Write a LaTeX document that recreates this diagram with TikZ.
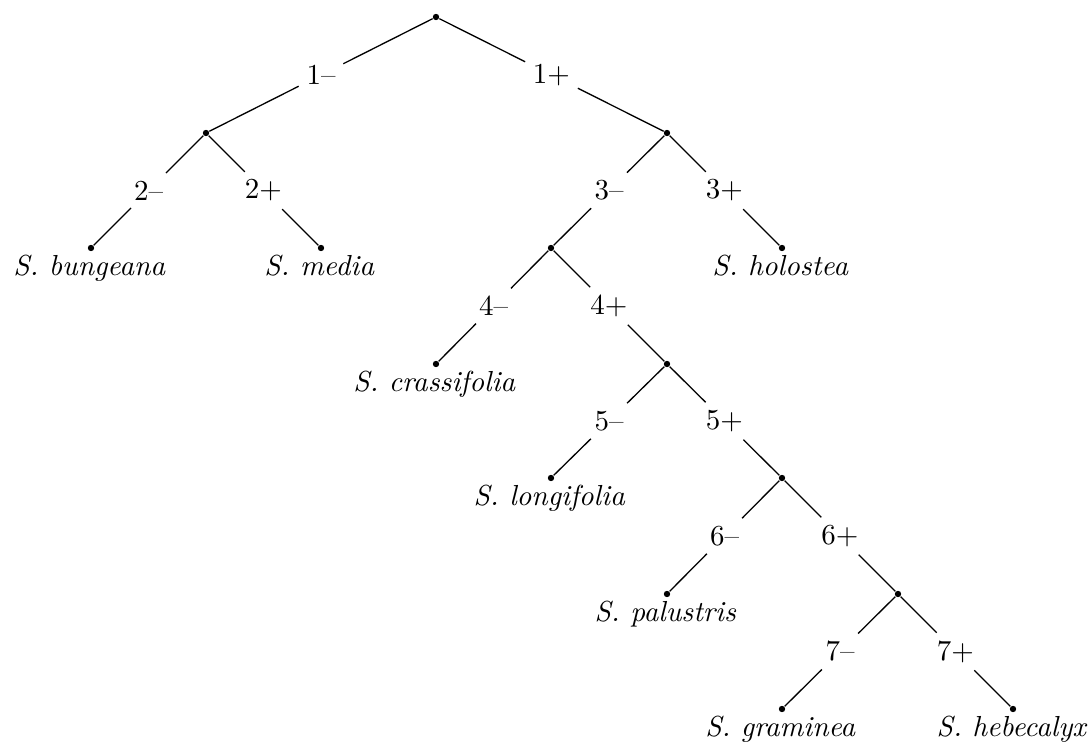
\documentclass[tikz,border=0pt]{standalone}
\usetikzlibrary{calc}
\begin{document}
\begin{tikzpicture}[x=0.345pt,y=-0.345pt,
  dot/.style={circle,fill,inner sep=0pt,minimum size=2.2pt},
  lbl/.style={inner sep=2.5pt},
  leaf/.style={font=\itshape,anchor=north,inner sep=0.8pt,xshift=-0.6pt},
  branch/.style={line width=0.45pt}]
\useasboundingbox (0,0) rectangle (1088,742);

% internal forks
\node[dot] (r) at (436,17) {};
\node[dot] (a) at (206,133) {};
\node[dot] (b) at (667,133) {};
\node[dot] (c) at (551,248) {};
\node[dot] (d) at (667,364) {};
\node[dot] (e) at (782,478) {};
\node[dot] (f) at (898,594) {};

% leaves
\node[dot] (bun) at (91,248) {};
\node[dot] (med) at (321,248) {};
\node[dot] (hol) at (782,248) {};
\node[dot] (cra) at (436,364) {};
\node[dot] (lon) at (551,478) {};
\node[dot] (pal) at (667,594) {};
\node[dot] (gra) at (782,709) {};
\node[dot] (heb) at (1013,709) {};

\node[leaf] (tbun) at (bun.south) {S. bungeana};
\node[leaf] (tmed) at (med.south) {S. media};
\node[leaf] (thol) at (hol.south) {S. holostea};
\node[leaf] (tcra) at (cra.south) {S. crassifolia};
\node[leaf] (tlon) at (lon.south) {S. longifolia};
\node[leaf] (tpal) at (pal.south) {S. palustris};
\node[leaf] (tgra) at (gra.south) {S. graminea};
\node[leaf] (theb) at (heb.south) {S. hebecalyx};

% branch labels, halfway along each branch
\node[lbl] (l1m) at ($(r)!0.5!(a)$) {1--};
\node[lbl] (l1p) at ($(r)!0.5!(b)$) {1+};
\node[lbl] (l2m) at ($(a)!0.5!(bun)$) {2--};
\node[lbl] (l2p) at ($(a)!0.5!(med)$) {2+};
\node[lbl] (l3m) at ($(b)!0.5!(c)$) {3--};
\node[lbl] (l3p) at ($(b)!0.5!(hol)$) {3+};
\node[lbl] (l4m) at ($(c)!0.5!(cra)$) {4--};
\node[lbl] (l4p) at ($(c)!0.5!(d)$) {4+};
\node[lbl] (l5m) at ($(d)!0.5!(lon)$) {5--};
\node[lbl] (l5p) at ($(d)!0.5!(e)$) {5+};
\node[lbl] (l6m) at ($(e)!0.5!(pal)$) {6--};
\node[lbl] (l6p) at ($(e)!0.5!(f)$) {6+};
\node[lbl] (l7m) at ($(f)!0.5!(gra)$) {7--};
\node[lbl] (l7p) at ($(f)!0.5!(heb)$) {7+};

% branches
\draw[branch] (r) -- (l1m) -- (a);
\draw[branch] (r) -- (l1p) -- (b);
\draw[branch] (a) -- (l2m) -- (bun);
\draw[branch] (a) -- (l2p) -- (med);
\draw[branch] (b) -- (l3m) -- (c);
\draw[branch] (b) -- (l3p) -- (hol);
\draw[branch] (c) -- (l4m) -- (cra);
\draw[branch] (c) -- (l4p) -- (d);
\draw[branch] (d) -- (l5m) -- (lon);
\draw[branch] (d) -- (l5p) -- (e);
\draw[branch] (e) -- (l6m) -- (pal);
\draw[branch] (e) -- (l6p) -- (f);
\draw[branch] (f) -- (l7m) -- (gra);
\draw[branch] (f) -- (l7p) -- (heb);
\end{tikzpicture}
\end{document}
